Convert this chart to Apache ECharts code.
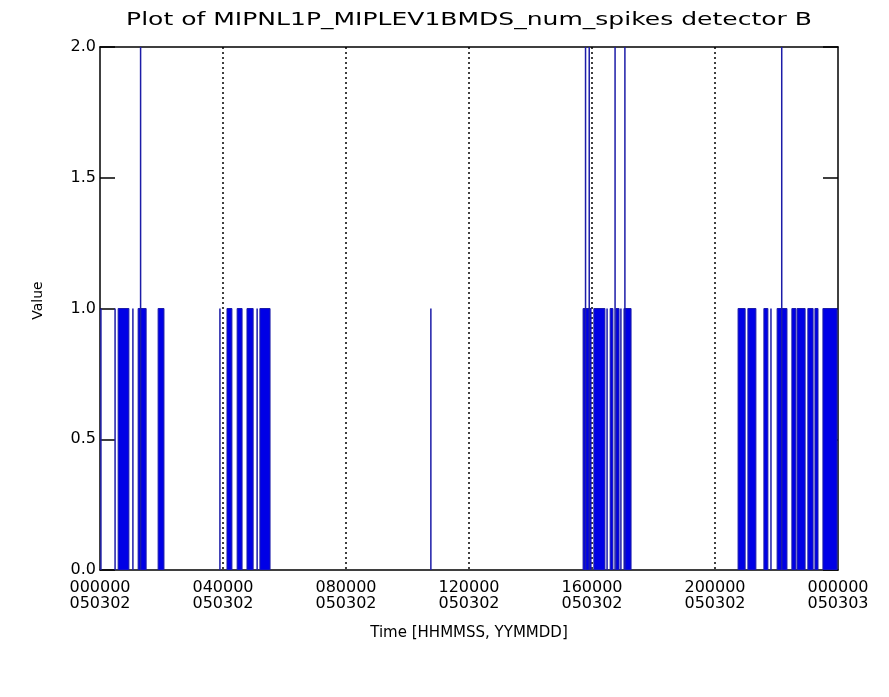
<!DOCTYPE html>
<html>
<head>
<meta charset="utf-8">
<script src="https://cdn.jsdelivr.net/npm/echarts@6/dist/echarts.min.js"></script>
<style>html,body{margin:0;padding:0;background:#fff;}#c{width:889px;height:697px;}</style>
</head>
<body>
<div id="c"></div>
<script>
// X tick labels (hours from 000000 050302)
var tickHours = [0, 4, 8, 12, 16, 20, 24];
var tickTimes = ['000000', '040000', '080000', '120000', '160000', '200000', '000000'];
var tickDates = ['050302', '050302', '050302', '050302', '050302', '050302', '050303'];
var yTicks = [0, 0.5, 1.0, 1.5, 2.0];
var titleText = 'Plot of MIPNL1P_MIPLEV1BMDS_num_spikes detector B';

// spike blocks: [startHour, endHour, value]; start == end -> single thin spike
var group1 = [
  [0.03, 0.03, 1], [0.49, 0.49, 1], [0.59, 0.94, 1], [1.07, 1.07, 1],
  [1.24, 1.50, 1], [1.32, 1.32, 2], [1.89, 2.08, 1]
];
var group2 = [
  [3.90, 3.90, 1], [4.13, 4.29, 1], [4.46, 4.62, 1], [4.78, 4.98, 1],
  [5.11, 5.11, 1], [5.20, 5.53, 1]
];
var group3 = [
  [10.76, 10.76, 1]
];
var group4 = [
  [15.71, 15.97, 1], [15.79, 15.79, 2], [15.91, 15.91, 2], [16.06, 16.42, 1],
  [16.49, 16.49, 1], [16.59, 16.68, 1], [16.75, 16.75, 2], [16.78, 16.88, 1],
  [16.94, 16.94, 1], [17.04, 17.27, 1], [17.07, 17.07, 2]
];
var group5 = [
  [20.75, 20.98, 1], [21.07, 21.33, 1], [21.59, 21.72, 1], [21.82, 21.82, 1],
  [22.02, 22.34, 1], [22.17, 22.17, 2], [22.50, 22.63, 1], [22.67, 22.93, 1],
  [23.02, 23.19, 1], [23.25, 23.35, 1], [23.51, 23.97, 1]
];
var spikes = [].concat(group1, group2, group3, group4, group5);

var FONT = 'DejaVu Sans';
var chart = echarts.init(document.getElementById('c'), null, {renderer: 'canvas'});
chart.setOption({
  animation: false,
  backgroundColor: '#fff',
  graphic: [{
    type: 'text', x: 469, y: 20, scaleX: 1.39, scaleY: 1,
    style: {
      text: titleText, font: '18px "DejaVu Sans"', fill: '#000',
      textAlign: 'center', textVerticalAlign: 'middle'
    }
  }],
  grid: {left: 100, right: 51, top: 47, bottom: 127, containLabel: false},
  xAxis: [{
    type: 'value', min: 0, max: 24, interval: 4, position: 'bottom',
    name: 'Time [HHMMSS, YYMMDD]', nameLocation: 'middle', nameGap: 56,
    nameTextStyle: {fontFamily: FONT, fontSize: 15, color: '#000'},
    axisLine: {show: true, onZero: false, lineStyle: {color: '#000', width: 1.5}},
    axisTick: {show: false},
    axisLabel: {
      fontFamily: FONT, fontSize: 16, color: '#000', margin: 10, lineHeight: 16,
      formatter: function (v) {
        var i = tickHours.indexOf(v);
        return i < 0 ? '' : tickTimes[i] + '\n' + tickDates[i];
      }
    },
    splitLine: {show: true, showMinLine: false, showMaxLine: false,
      lineStyle: {color: '#000', type: [2, 3], width: 1.5}}
  }, {
    type: 'value', min: 0, max: 24, interval: 4, position: 'top',
    axisLine: {show: true, onZero: false, lineStyle: {color: '#000', width: 1.5}},
    axisTick: {show: false}, axisLabel: {show: false}, splitLine: {show: false}
  }],
  yAxis: [{
    type: 'value', min: 0, max: 2, interval: 0.5, position: 'left',
    name: 'Value', nameLocation: 'middle', nameGap: 55, nameRotate: 90,
    nameTextStyle: {fontFamily: FONT, fontSize: 14, color: '#000', padding: [0, 0, 0, 16]},
    axisLine: {show: true, onZero: false, lineStyle: {color: '#000', width: 1.5}},
    axisTick: {show: true, inside: true, length: 15, lineStyle: {color: '#000', width: 1.5}},
    axisLabel: {
      fontFamily: FONT, fontSize: 16, color: '#000', margin: 4,
      formatter: function (v) { return yTicks.indexOf(v) < 0 ? '' : v.toFixed(1); }
    },
    splitLine: {show: false}
  }, {
    type: 'value', min: 0, max: 2, interval: 0.5, position: 'right',
    axisLine: {show: true, onZero: false, lineStyle: {color: '#000', width: 1.5}},
    axisTick: {show: true, inside: true, length: 15, lineStyle: {color: '#000', width: 1.5}},
    axisLabel: {show: false}, splitLine: {show: false}
  }],
  series: [{
    type: 'custom',
    xAxisIndex: 0, yAxisIndex: 0,
    data: spikes,
    clip: true,
    renderItem: function (params, api) {
      var p0 = api.coord([api.value(0), 0]);
      var p1 = api.coord([api.value(1), api.value(2)]);
      if (api.value(1) - api.value(0) < 1e-9) {
        return {
          type: 'line',
          shape: {x1: p0[0], y1: p0[1], x2: p0[0], y2: p1[1]},
          style: {stroke: '#1c1ca8', lineWidth: 1.5}
        };
      }
      return {
        type: 'rect',
        shape: {x: p0[0], y: p1[1], width: p1[0] - p0[0], height: p0[1] - p1[1]},
        style: {fill: '#0000e6', stroke: '#1c1ca8', lineWidth: 1}
      };
    }
  }]
});
</script>
</body>
</html>
